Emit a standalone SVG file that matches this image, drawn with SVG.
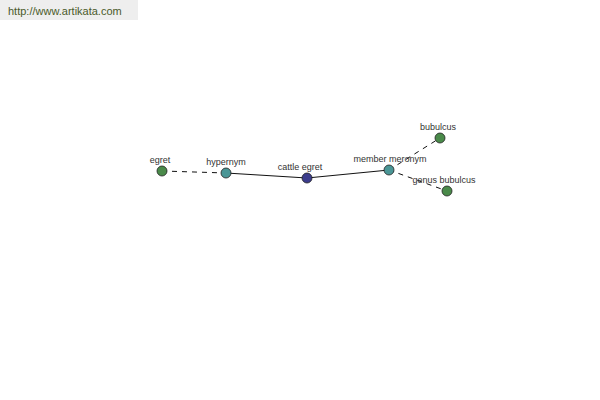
<svg xmlns="http://www.w3.org/2000/svg" width="600" height="400" viewBox="0 0 600 400">
<style>
.lbl{font-family:"Liberation Sans",Arial,sans-serif;font-size:9px;fill:#333;text-anchor:middle}
.node{stroke:#222;stroke-width:0.8}
.e{stroke:#111;stroke-width:1;fill:none}
.d{stroke-dasharray:5,5}
</style>
<rect width="600" height="400" fill="#fff"/>
<rect x="0" y="0" width="138" height="20" fill="#eeeeee"/>
<text x="8" y="15" font-family="'Liberation Sans',Arial,sans-serif" font-size="11" fill="#4a5a2a">http://www.artikata.com</text>
<g id="connectors">
<line class="e d" x1="162" y1="171" x2="226" y2="173"/>
<line class="e" x1="226" y1="173" x2="307" y2="178"/>
<line class="e" x1="307" y1="178" x2="389" y2="170"/>
<line class="e d" x1="389" y1="170" x2="440" y2="138"/>
<line class="e d" x1="389" y1="170" x2="447" y2="191"/>
</g>
<g id="egret"><circle class="node" cx="162" cy="171" r="5" fill="#4a8a4a"/><text class="lbl" x="160" y="163">egret</text></g>
<g id="hypernym"><circle class="node" cx="226" cy="173" r="5" fill="#4a9696"/><text class="lbl" x="226" y="165">hypernym</text></g>
<g id="cattle-egret"><circle class="node" cx="307" cy="178" r="5" fill="#3c3c8c"/><text class="lbl" x="300" y="170">cattle egret</text></g>
<g id="member-meronym"><circle class="node" cx="389" cy="170" r="5" fill="#4a9696"/><text class="lbl" x="390" y="162">member meronym</text></g>
<g id="bubulcus"><circle class="node" cx="440" cy="138" r="5" fill="#4a8a4a"/><text class="lbl" x="438" y="130">bubulcus</text></g>
<g id="genus-bubulcus"><circle class="node" cx="447" cy="191" r="5" fill="#4a8a4a"/><text class="lbl" x="444" y="183">genus bubulcus</text></g>
</svg>
